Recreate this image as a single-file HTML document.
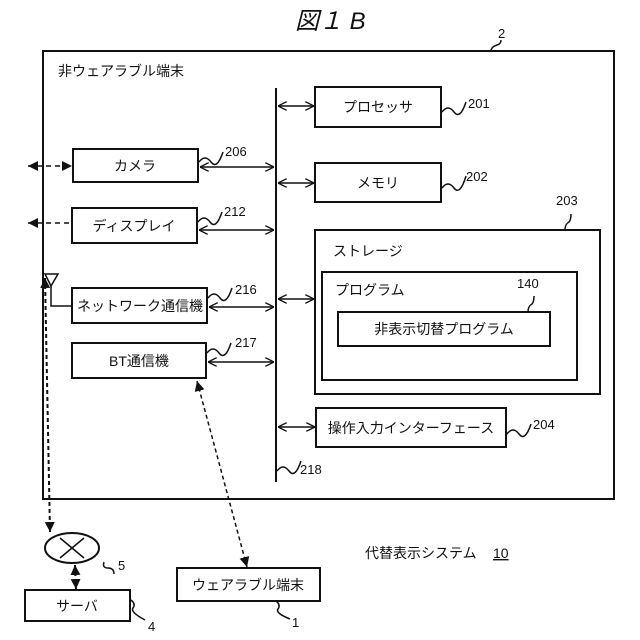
<!DOCTYPE html>
<html><head><meta charset="utf-8"><style>
html,body{margin:0;padding:0;background:#fff;}
svg{display:block;}
text{font-family:"Liberation Sans","Noto Sans CJK JP",sans-serif;font-size:14px;fill:#111;}
.n{font-size:13px;}
</style></head><body>
<svg width="640" height="640" viewBox="0 0 640 640" xmlns="http://www.w3.org/2000/svg">
<defs>
<marker id="a" viewBox="0 0 10 10" refX="10" refY="5" markerWidth="9" markerHeight="9" orient="auto-start-reverse" markerUnits="userSpaceOnUse"><path d="M0,0 L10,5 L0,10" fill="none" stroke="#111" stroke-width="1.5"/></marker>
<marker id="f" viewBox="0 0 10 10" refX="10" refY="5" markerWidth="10" markerHeight="10" orient="auto-start-reverse" markerUnits="userSpaceOnUse"><path d="M0,0 L10,5 L0,10 z" fill="#111"/></marker>
</defs>
<g fill="none" stroke="#111" stroke-width="2">
<rect x="43" y="51" width="571" height="448"/>
<line x1="276" y1="88" x2="276" y2="482"/>
<rect x="315" y="87" width="126" height="40"/>
<rect x="315" y="163" width="126" height="39"/>
<rect x="315" y="230" width="285" height="164"/>
<rect x="322" y="272" width="255" height="108"/>
<rect x="338" y="312" width="212" height="34"/>
<rect x="316" y="408" width="190" height="39"/>
<rect x="73" y="149" width="125" height="33"/>
<rect x="72" y="208" width="125" height="35"/>
<rect x="72" y="288" width="135" height="35"/>
<rect x="72" y="343" width="134" height="35"/>
<rect x="25" y="590" width="105" height="31"/>
<rect x="177" y="568" width="143" height="33"/>
<ellipse cx="72" cy="548" rx="27" ry="15"/>
</g>
<g stroke="#111" stroke-width="1.5" fill="none">
<line x1="60" y1="538" x2="84" y2="558"/><line x1="84" y1="538" x2="60" y2="558"/>
<line x1="278" y1="106" x2="314" y2="106" marker-start="url(#a)" marker-end="url(#a)"/>
<line x1="278" y1="183" x2="314" y2="183" marker-start="url(#a)" marker-end="url(#a)"/>
<line x1="278" y1="299" x2="314" y2="299" marker-start="url(#a)" marker-end="url(#a)"/>
<line x1="278" y1="427" x2="315" y2="427" marker-start="url(#a)" marker-end="url(#a)"/>
<line x1="200" y1="167" x2="274" y2="167" marker-start="url(#a)" marker-end="url(#a)"/>
<line x1="199" y1="230" x2="274" y2="230" marker-start="url(#a)" marker-end="url(#a)"/>
<line x1="209" y1="307" x2="274" y2="307" marker-start="url(#a)" marker-end="url(#a)"/>
<line x1="208" y1="362" x2="274" y2="362" marker-start="url(#a)" marker-end="url(#a)"/>
<line x1="28" y1="166" x2="72" y2="166" stroke-dasharray="5,4" marker-start="url(#f)" marker-end="url(#f)"/>
<line x1="28" y1="223" x2="71" y2="223" stroke-dasharray="5,4" marker-start="url(#f)"/>
<path d="M45,274 L58,274 L51,286 Z"/>
<polyline points="51,286 51,306 72,306"/>
<line x1="45" y1="278" x2="50" y2="532" stroke-dasharray="4,3" stroke-width="2" marker-start="url(#f)" marker-end="url(#f)"/>
<line x1="75" y1="565" x2="76" y2="589" stroke-dasharray="4,3" stroke-width="2" marker-start="url(#f)" marker-end="url(#f)"/>
<line x1="197" y1="381" x2="247" y2="567" stroke-dasharray="4,3" marker-start="url(#f)" marker-end="url(#f)"/>
<path d="M442,112 q6,-8 12,0 t12,-10"/>
<path d="M442,188 q6,-8 12,0 t12,-12"/>
<path d="M199,162 q6,-8 12,0 t12,-10"/>
<path d="M198,222 q6,-8 12,0 t12,-10"/>
<path d="M208,298 q6,-8 12,0 t12,-10"/>
<path d="M207,353 q6,-8 12,0 t12,-10"/>
<path d="M507,434 q6,-8 12,0 t12,-10"/>
<path d="M277,471 q6,-8 12,0 t12,-10"/>
<path d="M491,51 q0,-4 6,-6 q4,-1 4,-5"/>
<path d="M565,230 q0,-6 4,-8 q2,-2 2,-8"/>
<path d="M528,312 q0,-6 4,-8 q2,-2 2,-8"/>
<path d="M104,562 q-2,6 4,6 q6,0 6,6"/>
<path d="M131,600 q5,4 2,8 q-3,4 12,12"/>
<path d="M276,601 q5,4 2,8 q-3,4 12,10"/>
</g>
<text x="295" y="29" style="font-size:24px;font-style:italic;">図１ B</text>
<text x="498" y="38" class="n">2</text>
<text x="58" y="76">非ウェアラブル端末</text>
<text x="378" y="112" text-anchor="middle">プロセッサ</text>
<text x="378" y="188" text-anchor="middle">メモリ</text>
<text x="333" y="256">ストレージ</text>
<text x="335" y="295">プログラム</text>
<text x="444" y="334" text-anchor="middle">非表示切替プログラム</text>
<text x="411" y="433" text-anchor="middle">操作入力インターフェース</text>
<text x="135" y="171" text-anchor="middle">カメラ</text>
<text x="134" y="231" text-anchor="middle">ディスプレイ</text>
<text x="140" y="311" text-anchor="middle">ネットワーク通信機</text>
<text x="139" y="366" text-anchor="middle">BT通信機</text>
<text x="77" y="611" text-anchor="middle">サーバ</text>
<text x="248" y="590" text-anchor="middle">ウェアラブル端末</text>
<text x="365" y="558">代替表示システム</text>
<text x="493" y="558" style="text-decoration:underline">10</text>
<text x="468" y="108" class="n">201</text>
<text x="466" y="181" class="n">202</text>
<text x="556" y="205" class="n">203</text>
<text x="517" y="288" class="n">140</text>
<text x="533" y="429" class="n">204</text>
<text x="225" y="156" class="n">206</text>
<text x="224" y="216" class="n">212</text>
<text x="235" y="294" class="n">216</text>
<text x="235" y="347" class="n">217</text>
<text x="300" y="474" class="n">218</text>
<text x="118" y="570" class="n">5</text>
<text x="148" y="631" class="n">4</text>
<text x="292" y="627" class="n">1</text>
</svg>
</body></html>
